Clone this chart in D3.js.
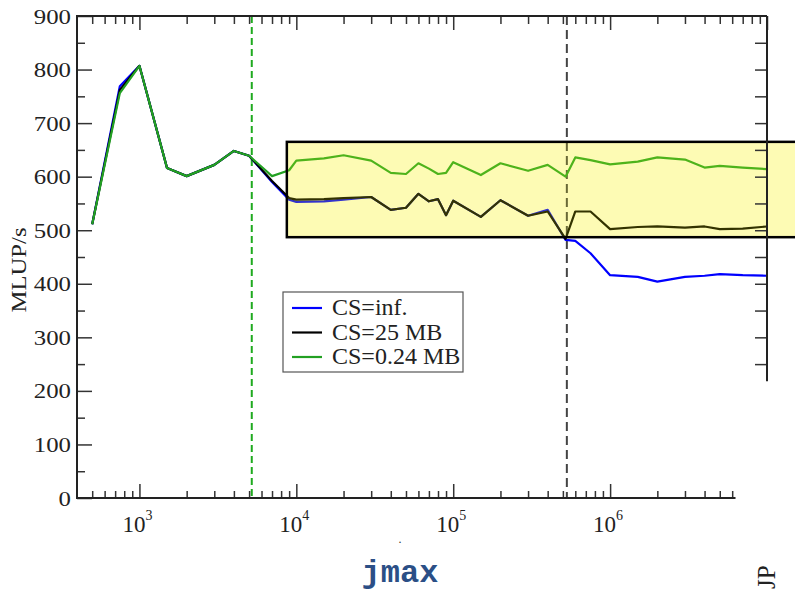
<!DOCTYPE html>
<html>
<head>
<meta charset="utf-8">
<script src="https://d3js.org/d3.v7.min.js"></script>
<style>
  body { margin: 0; background: #fff; }
  svg { display: block; }
</style>
</head>
<body>
<div id="chart"></div>
<script>
let jmax = [500, 750, 1000, 1500, 2000, 3000, 4000, 5000, 7000, 9000,
            10000, 15000, 20000, 30000, 40000, 50000, 60000, 70000, 80000, 90000,
            100000, 150000, 200000, 300000, 400000, 520000, 600000, 750000,
            1000000, 1500000, 2000000, 3000000, 4000000, 5000000, 7000000, 10000000];

let csInf = [511, 769, 807, 616, 601, 622, 648, 639, 590, 557,
             553, 554, 557, 562, 538, 542, 568, 554, 558, 528,
             555, 525, 556, 527, 538, 482, 480, 457,
             416, 413, 404, 413, 415, 418, 416, 415];

let cs25 = [511, 762, 807, 616, 601, 622, 648, 639, 592, 560,
            557, 558, 560, 562, 538, 542, 568, 554, 558, 528,
            555, 525, 556, 527, 535, 484, 535, 535,
            502, 506, 507, 505, 507, 502, 503, 507];

let cs024 = [511, 756, 807, 616, 601, 622, 648, 639, 601, 612,
             630, 634, 640, 630, 607, 605, 625, 615, 605, 607,
             627, 603, 625, 611, 622, 600, 636, 631,
             623, 628, 636, 632, 617, 620, 617, 614];

let seriesNames = ["CS=inf.", "CS=25 MB", "CS=0.24 MB"];
let yTicks = [0, 100, 200, 300, 400, 500, 600, 700, 800, 900];
let yMinor = [50, 150, 250, 350, 450, 550, 650, 750, 850];
let xTicks = [1e3, 1e4, 1e5, 1e6];
let xExp = ["3", "4", "5", "6"];
let xMinor = [500, 600, 700, 800, 900, 2e3, 3e3, 4e3, 5e3, 6e3, 7e3, 8e3, 9e3,
              2e4, 3e4, 4e4, 5e4, 6e4, 7e4, 8e4, 9e4, 2e5, 3e5, 4e5, 5e5, 6e5, 7e5, 8e5, 9e5,
              2e6, 3e6, 4e6, 5e6, 6e6];
let xMinorTop = xMinor.concat([7e6, 8e6, 9e6]);
let rightTicks = [250, 300, 350, 400, 450, 500, 550, 600, 650, 700, 750, 800, 850];

// annotations (data space)
let cacheLines = [5200, 530000];
let boxJ = [8700, 2e7], boxV = [487, 665];

let colors = ["#0000ff", "#000000", "#22a022"];
let svgWidth = 795, svgHeight = 591;

let x = d3.scaleLog().domain([400, 1e7]).range([77, 767]);
let y = d3.scaleLinear().domain([0, 900]).range([498, 16]);

let svg = d3.select("#chart").append("svg")
    .attr("width", svgWidth)
    .attr("height", svgHeight);

// highlight box background
svg.append("rect")
    .attr("x", x(boxJ[0]))
    .attr("y", y(boxV[1]))
    .attr("width", x(boxJ[1]) - x(boxJ[0]))
    .attr("height", y(boxV[0]) - y(boxV[1]))
    .attr("fill", "#fdfae2");

// dashed cache lines
svg.selectAll(".cache")
    .data(cacheLines)
    .enter()
    .append("line")
    .attr("x1", d => x(d)).attr("x2", d => x(d))
    .attr("y1", y(900)).attr("y2", y(0))
    .attr("stroke", (d, i) => i == 0 ? "#1faa1f" : "#444")
    .attr("stroke-width", 2)
    .attr("stroke-dasharray", (d, i) => i == 0 ? "7,4" : "9,5");

let line = d3.line()
    .x((d, i) => x(jmax[i]))
    .y(d => y(d));

svg.selectAll(".series")
    .data([csInf, cs25, cs024])
    .enter()
    .append("path")
    .attr("d", d => line(d))
    .attr("fill", "none")
    .attr("stroke", (d, i) => colors[i])
    .attr("stroke-width", 2.2)
    .attr("stroke-linejoin", "round");

// yellow tint + border
svg.append("rect")
    .attr("x", x(boxJ[0]))
    .attr("y", y(boxV[1]))
    .attr("width", x(boxJ[1]) - x(boxJ[0]))
    .attr("height", y(boxV[0]) - y(boxV[1]))
    .attr("fill", "#ffff00")
    .attr("fill-opacity", 0.2)
    .attr("stroke", "#000")
    .attr("stroke-width", 2.5);

// axes
function styleAxis(g) {
    g.select(".domain").remove();
    g.selectAll(".tick line").attr("stroke", "#333").attr("stroke-width", 1.5);
}

svg.append("g")
    .attr("transform", "translate(" + x(400) + ",0)")
    .call(d3.axisLeft(y).tickValues(yTicks).tickSize(-15).tickPadding(6))
    .call(styleAxis)
    .call(g => g.selectAll("text")
        .attr("font-family", "Liberation Serif, serif")
        .attr("font-size", "22px")
        .attr("fill", "#222")
        .attr("textLength", d => String(d).length * 12.4)
        .attr("lengthAdjust", "spacingAndGlyphs"));

svg.append("g")
    .attr("transform", "translate(" + x(400) + ",0)")
    .call(d3.axisLeft(y).tickValues(yMinor).tickSize(-8).tickFormat(""))
    .call(styleAxis);

svg.append("g")
    .attr("transform", "translate(" + x(1e7) + ",0)")
    .call(d3.axisRight(y).tickValues(rightTicks).tickSize(-12).tickFormat(""))
    .call(styleAxis);

svg.append("g")
    .attr("transform", "translate(0," + y(0) + ")")
    .call(d3.axisBottom(x).tickValues(xTicks).tickSize(-14).tickFormat(""))
    .call(styleAxis);

svg.append("g")
    .attr("transform", "translate(0," + y(0) + ")")
    .call(d3.axisBottom(x).tickValues(xMinor).tickSize(-7).tickFormat(""))
    .call(styleAxis);

svg.append("g")
    .attr("transform", "translate(0," + y(900) + ")")
    .call(d3.axisTop(x).tickValues(xTicks.concat([1e7])).tickSize(-14).tickFormat(""))
    .call(styleAxis);

svg.append("g")
    .attr("transform", "translate(0," + y(900) + ")")
    .call(d3.axisTop(x).tickValues(xMinorTop).tickSize(-8).tickFormat(""))
    .call(styleAxis);

// frame
let frame = svg.append("g").attr("stroke", "#222").attr("stroke-width", 2).attr("fill", "none");
frame.append("line").attr("x1", x(400)).attr("x2", x(400)).attr("y1", y(900)).attr("y2", y(0) + 1);
frame.append("line").attr("x1", x(400) - 1).attr("x2", x(6.3e6)).attr("y1", y(0)).attr("y2", y(0));
frame.append("line").attr("x1", x(400) - 1).attr("x2", x(1e7)).attr("y1", y(900)).attr("y2", y(900));
frame.append("line").attr("x1", x(1e7)).attr("x2", x(1e7)).attr("y1", y(900)).attr("y2", y(218));

// x tick labels 10^k
let xl = svg.selectAll(".xlab")
    .data(xTicks)
    .enter()
    .append("text")
    .attr("x", d => x(d) - 2)
    .attr("y", 532)
    .attr("text-anchor", "middle")
    .attr("font-family", "Liberation Serif, serif")
    .attr("fill", "#222");
xl.append("tspan").attr("font-size", "23px").text("10");
xl.append("tspan").attr("font-size", "14px").attr("dy", -12).text((d, i) => xExp[i]);

svg.append("text")
    .attr("transform", "translate(26,270) rotate(-90)")
    .attr("text-anchor", "middle")
    .attr("font-family", "Liberation Serif, serif")
    .attr("font-size", "22px")
    .attr("fill", "#222")
    .attr("textLength", 85)
    .attr("lengthAdjust", "spacingAndGlyphs")
    .text("MLUP/s");

svg.append("text")
    .attr("x", 400)
    .attr("y", 582)
    .attr("text-anchor", "middle")
    .attr("font-family", "Liberation Mono, monospace")
    .attr("font-weight", "bold")
    .attr("font-size", "32px")
    .attr("fill", "#2b4f86")
    .text("jmax");

svg.append("text")
    .attr("x", 400)
    .attr("y", 543)
    .attr("text-anchor", "middle")
    .attr("font-family", "Liberation Serif, serif")
    .attr("font-size", "12px")
    .attr("fill", "#333")
    .text(".");

svg.append("text")
    .attr("transform", "translate(775,589) rotate(-90)")
    .attr("font-family", "Liberation Serif, serif")
    .attr("font-size", "25px")
    .attr("fill", "#222")
    .text("JP");

// legend
let legend = svg.append("g").attr("transform", "translate(283,292)");
legend.append("rect")
    .attr("width", 180)
    .attr("height", 80)
    .attr("fill", "#fff")
    .attr("stroke", "#555")
    .attr("stroke-width", 1.2);

let items = legend.selectAll(".item")
    .data(seriesNames)
    .enter()
    .append("g")
    .attr("transform", (d, i) => "translate(0," + (16 + i * 24.5) + ")");
items.append("line")
    .attr("x1", 9).attr("x2", 39)
    .attr("stroke", (d, i) => colors[i])
    .attr("stroke-width", 2.2);
items.append("text")
    .attr("x", 49)
    .attr("y", 7)
    .attr("font-family", "Liberation Serif, serif")
    .attr("font-size", "24px")
    .attr("fill", "#222")
    .text(d => d);
</script>
</body>
</html>
